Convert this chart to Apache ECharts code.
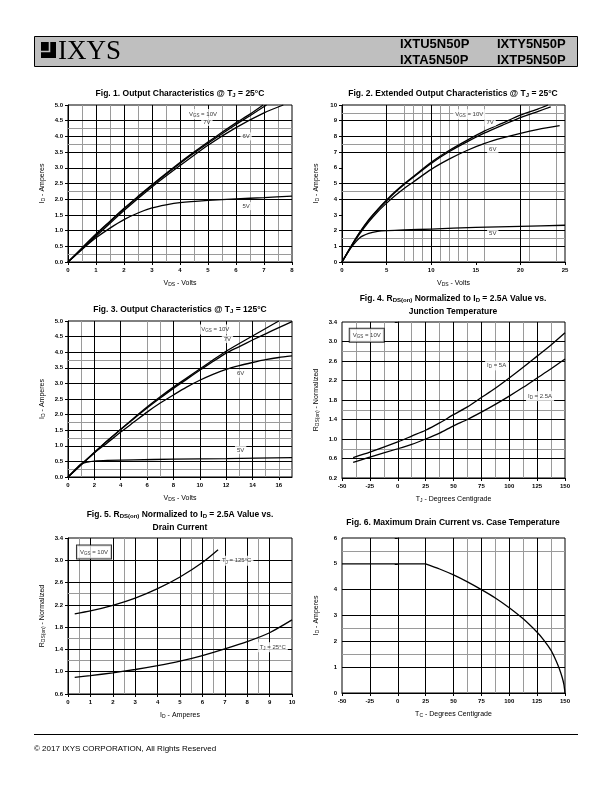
<!DOCTYPE html>
<html><head><meta charset="utf-8">
<script src="https://cdn.jsdelivr.net/npm/echarts@6/dist/echarts.min.js"></script>
<style>html,body{margin:0;padding:0;background:#fff}#c{width:612px;height:792px}</style>
</head><body><div id="c"></div>
<script>
// ---------- Fig.1 Output characteristics @ 25C ----------
const fig1_10V = [[0,0],[0.5,0.45],[1,0.89],[1.5,1.3],[2,1.71],[2.5,2.09],[3,2.46],[3.5,2.82],[4,3.17],[4.5,3.5],[5,3.82],[5.5,4.13],[6,4.43],[6.5,4.71],[6.97,5.0]];
const fig1_7V  = [[0,0],[1,0.87],[2,1.69],[3,2.44],[4,3.14],[5,3.78],[6,4.38],[6.5,4.66],[7.09,5.0]];
const fig1_6V  = [[0,0],[1,0.82],[2,1.64],[3,2.39],[4,3.07],[5,3.72],[6,4.28],[7,4.75],[7.69,5.0]];
const fig1_5V  = [[0,0],[0.5,0.4],[1,0.77],[1.5,1.08],[2,1.35],[2.5,1.56],[3,1.72],[3.5,1.82],[4,1.89],[5,1.96],[6,2.01],[7,2.05],[8,2.1]];
const fig1XTicks = [0,1,2,3,4,5,6,7,8];
const fig1YTicks = [0,0.5,1,1.5,2,2.5,3,3.5,4,4.5,5];
const fig1BlackX = [1,2,3,4,5,6,7], fig1GreyX = [0.5,1.5,2.5,3.5,4.5,5.5,6.5,7.5];
const fig1BlackY = [0.5,1,1.5,2,2.5,3,3.5,4,4.5], fig1GreyY = [0.25,2.25,3.75,4.25];

// ---------- Fig.2 Extended output characteristics @ 25C ----------
const fig2_10V = [[0,0],[1,0.98],[2,1.9],[3,2.7],[4,3.35],[5,3.95],[6,4.5],[7,5.0],[8,5.45],[10,6.35],[12,7.1],[14,7.75],[16,8.35],[18,8.85],[20,9.35],[22,9.75],[23.1,10.0]];
const fig2_7V  = [[0,0],[1,0.98],[2,1.88],[3,2.65],[4,3.32],[5,3.9],[6,4.45],[7,4.95],[8,5.4],[10,6.28],[12,7.02],[14,7.65],[16,8.22],[18,8.72],[20,9.2],[22,9.6],[23.4,9.88]];
const fig2_6V  = [[0,0],[1,0.95],[2,1.8],[3,2.55],[4,3.2],[5,3.75],[6,4.25],[7,4.7],[8,5.1],[10,5.9],[12,6.55],[14,7.1],[16,7.55],[18,7.9],[20,8.2],[22,8.45],[24.4,8.68]];
const fig2_5V  = [[0,0],[1,0.9],[2,1.55],[3,1.82],[4,1.95],[5,2.0],[7,2.04],[10,2.1],[15,2.2],[20,2.27],[25,2.34]];
const fig2XTicks = [0,5,10,15,20,25];
const fig2YTicks = [0,1,2,3,4,5,6,7,8,9,10];
const fig2BlackX = [5,10,20], fig2GreyX = [7,8,9,11,12,13,14,16,21,24];
const fig2BlackY = [1,2,4,5,7,8,9], fig2GreyY = [1.5,4.5,7.5,9.5];

// ---------- Fig.3 Output characteristics @ 125C ----------
const fig3_10V = [[0,0],[1,0.4],[2,0.79],[3,1.17],[4,1.53],[5,1.89],[6,2.24],[7,2.57],[8,2.88],[9,3.17],[10,3.46],[11,3.75],[12,4.03],[13,4.28],[14,4.52],[15,4.76],[16,5.0]];
const fig3_7V  = [[0,0],[1,0.4],[2,0.78],[3,1.16],[4,1.52],[5,1.87],[6,2.21],[7,2.53],[8,2.84],[9,3.13],[10,3.42],[11,3.7],[12,3.97],[13,4.18],[14,4.39],[15,4.59],[16,4.79],[17,4.98]];
const fig3_6V  = [[0,0],[1,0.39],[2,0.77],[3,1.1],[4,1.44],[5,1.76],[6,2.08],[7,2.37],[8,2.63],[9,2.88],[10,3.1],[11,3.29],[12,3.45],[13,3.57],[14,3.67],[15,3.76],[16,3.83],[17,3.88]];
const fig3_5V  = [[0,0],[0.5,0.22],[1,0.42],[1.5,0.48],[2,0.51],[3,0.53],[5,0.55],[8,0.57],[12,0.59],[17,0.62]];
const fig3XTicks = [0,2,4,6,8,10,12,14,16];
const fig3YTicks = [0,0.5,1,1.5,2,2.5,3,3.5,4,4.5,5];
const fig3BlackX = [2,4,8,10,12,14], fig3GreyX = [1,6,7,13,15,16];
const fig3BlackY = [0.5,1,1.5,2,2.5,3,3.5,4,4.5], fig3GreyY = [0.25,1.25,1.75,3.75];

// ---------- Fig.4 RDS(on) vs junction temperature ----------
const fig4_5A   = [[-40,0.62],[-25,0.73],[0,0.94],[12.5,1.06],[25,1.18],[37.5,1.33],[50,1.5],[62.5,1.66],[75,1.85],[87.5,2.04],[100,2.25],[112.5,2.47],[125,2.7],[137.5,2.93],[150,3.18]];
const fig4_2p5A = [[-40,0.52],[-25,0.63],[0,0.8],[12.5,0.89],[25,1.0],[37.5,1.12],[50,1.27],[62.5,1.4],[75,1.55],[87.5,1.71],[100,1.88],[112.5,2.06],[125,2.25],[137.5,2.44],[150,2.64]];
const fig4XTicks = [-50,-25,0,25,50,75,100,125,150];
const fig4YTicks = [0.2,0.6,1.0,1.4,1.8,2.2,2.6,3.0,3.4];
const fig4BlackX = [-25,0,25,50,75,100,125], fig4GreyX = [-37.5,-12.5,12.5,37.5,62.5,87.5,112.5,137.5];
const fig4BlackY = [0.6,1.0,1.4,1.8,2.2,2.6,3.0], fig4GreyY = [0.8,1.6,2.8];

// ---------- Fig.5 RDS(on) vs drain current ----------
const fig5_125C = [[0.3,2.04],[1,2.09],[2,2.19],[3,2.32],[4,2.49],[5,2.7],[6,2.96],[6.7,3.19]];
const fig5_25C  = [[0.3,0.9],[1,0.93],[2,0.98],[3,1.04],[4,1.11],[5,1.19],[6,1.29],[7,1.41],[8,1.54],[9,1.7],[10,1.93]];
const fig5XTicks = [0,1,2,3,4,5,6,7,8,9,10];
const fig5YTicks = [0.6,1.0,1.4,1.8,2.2,2.6,3.0,3.4];
const fig5BlackX = [1,2,3,4,5,6,7,8,9], fig5GreyX = [0.5,2.5,5.5,6.5,8.5];
const fig5BlackY = [1.0,1.4,1.8,2.2,2.6,3.0], fig5GreyY = [1.2,1.6,2.4];

// ---------- Fig.6 Max drain current vs case temperature ----------
const fig6_rated   = [[-50,5],[25,5]];
const fig6_derated = [[25,5],[37.5,4.8],[50,4.57],[62.5,4.3],[75,4.0],[87.5,3.68],[100,3.3],[112.5,2.87],[125,2.35],[131,2.05],[137.5,1.65],[142,1.25],[145,0.93],[147.5,0.6],[149,0.33],[150,0]];
const fig6XTicks = [-50,-25,0,25,50,75,100,125,150];
const fig6YTicks = [0,1,2,3,4,5,6];
const fig6BlackX = [-25,0,25,50,75,100,125], fig6GreyX = [62.5,87.5,112.5,137.5];
const fig6BlackY = [1,2,3,4], fig6GreyY = [1.5,2.5,5.5];

// ---------- annotations (data coordinates) ----------
const VGS = '{n|V}{s|GS}{n| = 10V}';
const fig1Notes = [[4.82,4.71,VGS],[4.96,4.46,'{n|7V}'],[6.36,4.0,'{n|6V}'],[6.36,1.78,'{n|5V}']];
const fig2Notes = [[14.27,9.41,VGS],[16.6,8.9,'{n|7V}'],[16.9,7.2,'{n|6V}'],[16.9,1.83,'{n|5V}']];
const fig3Notes = [[11.18,4.73,VGS],[12.1,4.42,'{n|7V}'],[13.1,3.31,'{n|6V}'],[13.1,0.87,'{n|5V}']];
const fig4Notes = [[88.7,2.51,'{n|I}{s|D}{n| = 5A}'],[127.6,1.88,'{n|I}{s|D}{n| = 2.5A}']];
const fig4Box = [[-27.8,3.13,VGS]];
const fig5Notes = [[7.53,2.99,'{n|T}{s|J}{n| = 125°C}'],[9.14,1.44,'{n|T}{s|J}{n| = 25°C}']];
const fig5Box = [[1.16,3.15,VGS]];

// ---------- build ----------
const FF = 'Liberation Sans, Arial, sans-serif';
const noteRich = {n:{fontSize:6,fontFamily:FF,color:'#000'}, s:{fontSize:4.5,fontFamily:FF,color:'#000',padding:[3,0,0,0]}};
const nameRich = {n:{fontSize:7,fontFamily:FF,color:'#000'}, s:{fontSize:5,fontFamily:FF,color:'#000',padding:[3,0,0,0]}};
const titleRich = {t:{fontSize:8.5,fontWeight:'bold',fontFamily:FF,color:'#000'}, s:{fontSize:6,fontWeight:'bold',fontFamily:FF,color:'#000',padding:[3,0,0,0]}};

const grids = [
  {left:68, top:105, width:224, height:157},
  {left:342,top:105, width:223, height:157},
  {left:68, top:321, width:224, height:156},
  {left:342,top:322, width:223, height:156},
  {left:68, top:538, width:224, height:156},
  {left:342,top:538, width:223, height:155}
];
const figs = [
  {x:[0,8], y:[0,5], xt:fig1XTicks, yt:fig1YTicks, yd:1, xd:0, xn:'{n|V}{s|DS}{n| - Volts}', yn:'{n|I}{s|D}{n| - Amperes}',
   curves:[fig1_10V,fig1_7V,fig1_6V,fig1_5V], bx:fig1BlackX, gx:fig1GreyX, by:fig1BlackY, gy:fig1GreyY, notes:fig1Notes, box:[]},
  {x:[0,25], y:[0,10], xt:fig2XTicks, yt:fig2YTicks, yd:0, xd:0, xn:'{n|V}{s|DS}{n| - Volts}', yn:'{n|I}{s|D}{n| - Amperes}',
   curves:[fig2_10V,fig2_7V,fig2_6V,fig2_5V], bx:fig2BlackX, gx:fig2GreyX, by:fig2BlackY, gy:fig2GreyY, notes:fig2Notes, box:[]},
  {x:[0,17], y:[0,5], xt:fig3XTicks, yt:fig3YTicks, yd:1, xd:0, xn:'{n|V}{s|DS}{n| - Volts}', yn:'{n|I}{s|D}{n| - Amperes}',
   curves:[fig3_10V,fig3_7V,fig3_6V,fig3_5V], bx:fig3BlackX, gx:fig3GreyX, by:fig3BlackY, gy:fig3GreyY, notes:fig3Notes, box:[]},
  {x:[-50,150], y:[0.2,3.4], xt:fig4XTicks, yt:fig4YTicks, yd:1, xd:0, xn:'{n|T}{s|J}{n| - Degrees Centigrade}', yn:'{n|R}{s|DS(on)}{n| - Normalized}',
   curves:[fig4_5A,fig4_2p5A], bx:fig4BlackX, gx:fig4GreyX, by:fig4BlackY, gy:fig4GreyY, notes:fig4Notes, box:fig4Box},
  {x:[0,10], y:[0.6,3.4], xt:fig5XTicks, yt:fig5YTicks, yd:1, xd:0, xn:'{n|I}{s|D}{n| - Amperes}', yn:'{n|R}{s|DS(on)}{n| - Normalized}',
   curves:[fig5_125C,fig5_25C], bx:fig5BlackX, gx:fig5GreyX, by:fig5BlackY, gy:fig5GreyY, notes:fig5Notes, box:fig5Box},
  {x:[-50,150], y:[0,6], xt:fig6XTicks, yt:fig6YTicks, yd:0, xd:0, xn:'{n|T}{s|C}{n| - Degrees Centigrade}', yn:'{n|I}{s|D}{n| - Amperes}',
   curves:[fig6_rated,fig6_derated], bx:fig6BlackX, gx:fig6GreyX, by:fig6BlackY, gy:fig6GreyY, notes:[], box:[]}
];

const option = {animation:false, grid:[], xAxis:[], yAxis:[], series:[], graphic:[]};
figs.forEach((f,i)=>{
  const g = grids[i];
  option.grid.push(Object.assign({show:true, borderColor:'#000', borderWidth:1, backgroundColor:'transparent'}, g));
  const lab = {fontSize:6, fontWeight:'bold', fontFamily:FF, color:'#000'};
  option.xAxis.push({type:'value', gridIndex:i, min:f.x[0], max:f.x[1],
    axisLine:{show:true, lineStyle:{color:'#000', width:1}},
    axisTick:{show:true, length:3, inside:false, customValues:f.xt, lineStyle:{color:'#000'}},
    axisLabel:Object.assign({customValues:f.xt, margin:5, formatter:v=>v.toFixed(f.xd)}, lab),
    splitLine:{show:false},
    name:f.xn, nameLocation:'middle', nameGap:17, nameTextStyle:{rich:nameRich}});
  option.yAxis.push({type:'value', gridIndex:i, min:f.y[0], max:f.y[1],
    axisLine:{show:true, lineStyle:{color:'#000', width:1}},
    axisTick:{show:true, length:3, inside:false, customValues:f.yt, lineStyle:{color:'#000'}},
    axisLabel:Object.assign({customValues:f.yt, margin:5, formatter:v=>v.toFixed(f.yd)}, lab),
    splitLine:{show:false},
    name:f.yn, nameLocation:'middle', nameGap:22, nameRotate:90, nameTextStyle:{rich:nameRich}});
  // gridlines (drawn beneath the curves)
  const ml = (vals, key, color) => vals.map(v=>({[key]:v, lineStyle:{color:color, width:1, type:'solid'}}));
  option.series.push({type:'line', xAxisIndex:i, yAxisIndex:i, z:1, data:[[f.x[0],f.y[0]]], showSymbol:false, symbol:'none',
    lineStyle:{opacity:0}, silent:true,
    markLine:{z:1, silent:true, symbol:['none','none'], animation:false, label:{show:false}, emphasis:{disabled:true},
      data:[].concat(ml(f.gx,'xAxis','#9a9a9a'), ml(f.gy,'yAxis','#9a9a9a'), ml(f.bx,'xAxis','#000'), ml(f.by,'yAxis','#000'))}});
  f.curves.forEach(c=>{
    option.series.push({type:'line', xAxisIndex:i, yAxisIndex:i, z:3, data:c, smooth:(c.length>2?0.25:false),
      showSymbol:false, symbol:'none', lineStyle:{color:'#000', width:1.3}, silent:true});
  });
  const noteSeries = (arr, extra) => ({type:'scatter', xAxisIndex:i, yAxisIndex:i, z:6, symbol:'circle', symbolSize:1,
    itemStyle:{color:'rgba(0,0,0,0)'}, silent:true,
    data:arr.map(n=>({value:[n[0],n[1]], t:n[2]})),
    label:Object.assign({show:true, position:'inside', formatter:p=>p.data.t, backgroundColor:'#fff', padding:[1,2], rich:noteRich}, extra)});
  if (f.notes.length) option.series.push(noteSeries(f.notes, {}));
  if (f.box.length) option.series.push(noteSeries(f.box, {borderColor:'#000', borderWidth:1, padding:[3,3,2,3]}));
});

// titles
const titles = [
  [180, 94, ['{t|Fig. 1. Output Characteristics @ T}{s|J}{t| = 25°C}']],
  [453, 94, ['{t|Fig. 2. Extended Output Characteristics @ T}{s|J}{t| = 25°C}']],
  [180, 310, ['{t|Fig. 3. Output Characteristics @ T}{s|J}{t| = 125°C}']],
  [453, 299, ['{t|Fig. 4. R}{s|DS(on)}{t| Normalized to I}{s|D}{t| = 2.5A Value vs.}', '{t|Junction Temperature}']],
  [180, 515, ['{t|Fig. 5. R}{s|DS(on)}{t| Normalized to I}{s|D}{t| = 2.5A Value vs.}', '{t|Drain Current}']],
  [453, 523, ['{t|Fig. 6. Maximum Drain Current vs. Case Temperature}']]
];
titles.forEach(t=>{
  t[2].forEach((line,k)=>{
    option.graphic.push({type:'text', x:t[0], y:t[1]+k*13, z:10, silent:true,
      style:{text:line, rich:titleRich, align:'center', textAlign:'center', verticalAlign:'middle', textVerticalAlign:'middle'}});
  });
});

// header
option.graphic.push(
  {type:'rect', shape:{x:34.5, y:36.5, width:543, height:30}, style:{fill:'#bfbfbf', stroke:'#000', lineWidth:1}, z:1, silent:true},
  {type:'rect', shape:{x:41, y:42, width:15, height:16}, style:{fill:'#000'}, z:2, silent:true},
  {type:'polyline', shape:{points:[[49.5,42],[49.5,51.5],[41,51.5]]}, style:{stroke:'#bfbfbf', lineWidth:1.6, fill:null}, z:3, silent:true},
  {type:'text', x:58, y:52, z:3, silent:true, style:{text:'IXYS', font:'27px "Liberation Serif", "Times New Roman", serif', fill:'#000', verticalAlign:'middle', textVerticalAlign:'middle'}},
  {type:'text', x:400, y:44, z:3, silent:true, style:{text:'IXTU5N50P', font:'bold 13px "Liberation Sans", Arial, sans-serif', fill:'#000', verticalAlign:'middle', textVerticalAlign:'middle'}},
  {type:'text', x:497, y:44, z:3, silent:true, style:{text:'IXTY5N50P', font:'bold 13px "Liberation Sans", Arial, sans-serif', fill:'#000', verticalAlign:'middle', textVerticalAlign:'middle'}},
  {type:'text', x:400, y:60, z:3, silent:true, style:{text:'IXTA5N50P', font:'bold 13px "Liberation Sans", Arial, sans-serif', fill:'#000', verticalAlign:'middle', textVerticalAlign:'middle'}},
  {type:'text', x:497, y:60, z:3, silent:true, style:{text:'IXTP5N50P', font:'bold 13px "Liberation Sans", Arial, sans-serif', fill:'#000', verticalAlign:'middle', textVerticalAlign:'middle'}},
  {type:'line', shape:{x1:34, y1:734.5, x2:578, y2:734.5}, style:{stroke:'#000', lineWidth:1}, silent:true},
  {type:'text', x:34, y:749, silent:true, style:{text:'© 2017 IXYS CORPORATION, All Rights Reserved', font:'8px "Liberation Sans", Arial, sans-serif', fill:'#000', verticalAlign:'middle', textVerticalAlign:'middle'}}
);

const chart = echarts.init(document.getElementById('c'), null, {renderer:'canvas'});
chart.setOption(option);
</script></body></html>
